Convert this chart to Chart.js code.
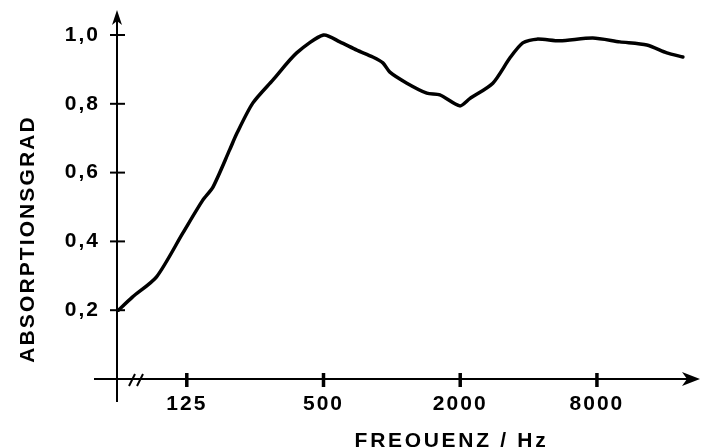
<!DOCTYPE html>
<html>
<head>
<meta charset="utf-8">
<script src="https://cdn.jsdelivr.net/npm/chart.js@4/dist/chart.umd.min.js"></script>
<style>
  html, body { margin: 0; padding: 0; background: #fff; }
  #wrap { width: 708px; height: 447px; position: relative; }
</style>
</head>
<body>
<div id="wrap"><canvas id="c"></canvas></div>
<script>
// ---- data ----
const frequencies = [62.5, 72, 92, 120, 147, 163, 193, 208, 244, 299, 381, 500, 590, 701, 824, 913, 980, 1164, 1425, 1627, 1992, 2204, 2784, 3308, 3772, 4350, 5490, 7670, 10090, 13270, 16260, 19120];
const absorption  = [0.20, 0.238, 0.297, 0.424, 0.52, 0.558, 0.666, 0.715, 0.802, 0.869, 0.948, 1.0, 0.98, 0.956, 0.936, 0.919, 0.892, 0.86, 0.831, 0.826, 0.794, 0.815, 0.86, 0.933, 0.977, 0.988, 0.983, 0.991, 0.98, 0.971, 0.948, 0.936];
const xTickValues = [125, 500, 2000, 8000];
const yTickValues = [0.2, 0.4, 0.6, 0.8, 1.0];
const xTitle = 'FREQUENZ / Hz';
const yTitle = 'ABSORPTIONSGRAD';

const FONT = { family: '"Liberation Sans", Arial, Helvetica, sans-serif', size: 21, weight: 'bold' };
const INK = '#000';

function noPad(s) { s.paddingLeft = 0; s.paddingRight = 0; s.paddingTop = 0; s.paddingBottom = 0; }

const axesPlugin = {
  id: 'axesPlugin',
  beforeDraw(chart) {
    chart.ctx.letterSpacing = '2px';
  },
  afterDraw(chart) {
    const ctx = chart.ctx;
    const xs = chart.scales.x, ys = chart.scales.y;
    const ca = chart.chartArea;
    const x0 = xs.left;            // y axis position
    const y0 = ys.getPixelForValue(0); // x axis position
    ctx.save();
    ctx.strokeStyle = INK; ctx.fillStyle = INK;
    ctx.lineCap = 'butt';
    // y axis line
    ctx.lineWidth = 2;
    ctx.beginPath(); ctx.moveTo(x0, ca.top + 8); ctx.lineTo(x0, y0 + 23); ctx.stroke();
    // x axis line
    ctx.beginPath(); ctx.moveTo(x0 - 23, y0); ctx.lineTo(ca.right - 10, y0); ctx.stroke();
    // y arrow head
    ctx.beginPath();
    ctx.moveTo(x0, ca.top);
    ctx.lineTo(x0 - 5, ca.top + 15);
    ctx.lineTo(x0, ca.top + 11);
    ctx.lineTo(x0 + 5, ca.top + 15);
    ctx.closePath(); ctx.fill();
    // x arrow head
    ctx.beginPath();
    ctx.moveTo(ca.right, y0);
    ctx.lineTo(ca.right - 18, y0 - 7);
    ctx.lineTo(ca.right - 13, y0);
    ctx.lineTo(ca.right - 18, y0 + 7);
    ctx.closePath(); ctx.fill();
    // y ticks (crossing)
    ctx.lineWidth = 2;
    yTickValues.forEach(v => {
      const py = ys.getPixelForValue(v);
      ctx.beginPath(); ctx.moveTo(x0 - 7, py); ctx.lineTo(x0 + 8, py); ctx.stroke();
    });
    // x ticks (short thick)
    ctx.lineWidth = 3.5;
    xTickValues.forEach(v => {
      const px = xs.getPixelForValue(v);
      ctx.beginPath(); ctx.moveTo(px, y0 - 6); ctx.lineTo(px, y0 + 8); ctx.stroke();
    });
    // axis break marks
    ctx.lineWidth = 2;
    [12, 20].forEach(d => {
      ctx.beginPath(); ctx.moveTo(x0 + d, y0 + 7); ctx.lineTo(x0 + d + 6, y0 - 5); ctx.stroke();
    });
    // titles
    ctx.font = `${FONT.weight} ${FONT.size}px ${FONT.family}`;
    ctx.textAlign = 'center';
    ctx.textBaseline = 'alphabetic';
    ctx.letterSpacing = '2.7px';
    ctx.fillText(xTitle, 451.5, 447);
    ctx.letterSpacing = '2.1px';
    ctx.translate(33.5, 240);
    ctx.rotate(-Math.PI / 2);
    ctx.fillText(yTitle, 1, 0);
    ctx.restore();
  }
};

new Chart(document.getElementById('c'), {
  type: 'line',
  data: {
    datasets: [{
      data: frequencies.map((f, i) => ({ x: f, y: absorption[i] })),
      borderColor: INK,
      borderWidth: 3.5,
      pointRadius: 0,
      tension: 0.25,
      fill: false,
      borderCapStyle: 'round',
      borderJoinStyle: 'round'
    }]
  },
  options: {
    responsive: true,
    maintainAspectRatio: false,
    animation: false,
    devicePixelRatio: 1,
    layout: { padding: { left: 0, top: 10, right: 8, bottom: 0 } },
    plugins: { legend: { display: false }, tooltip: { enabled: false } },
    scales: {
      x: {
        type: 'logarithmic',
        min: 61.6,
        max: 22750,
        afterBuildTicks: s => { s.ticks = xTickValues.map(v => ({ value: v })); },
        afterFit: s => { s.height = 68; noPad(s); },
        grid: { display: false, drawTicks: false },
        border: { display: false },
        ticks: {
          autoSkip: false, maxRotation: 0, minRotation: 0,
          padding: 13, color: INK, font: FONT,
          callback: v => String(v)
        }
      },
      y: {
        type: 'linear',
        min: 0,
        max: 1.0727,
        afterBuildTicks: s => { s.ticks = yTickValues.map(v => ({ value: v })); },
        afterFit: s => { s.width = 117; noPad(s); },
        grid: { display: false, drawTicks: false },
        border: { display: false },
        ticks: {
          padding: 17, color: INK, font: FONT,
          callback: v => v.toFixed(1).replace('.', ',')
        }
      }
    }
  },
  plugins: [axesPlugin]
});
</script>
</body>
</html>
